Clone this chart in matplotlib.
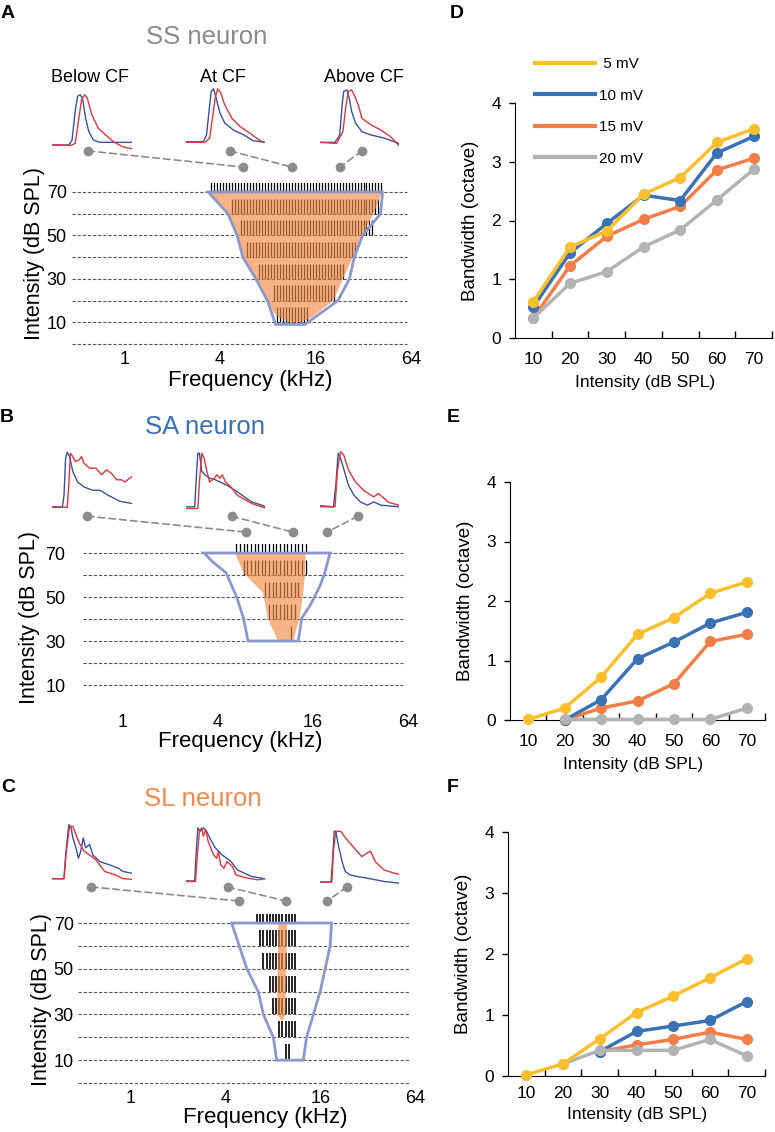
import numpy as np
import matplotlib.pyplot as plt
from matplotlib.lines import Line2D
from matplotlib.patches import Polygon, ConnectionPatch

plt.rcParams['font.family'] = ['Liberation Sans', 'DejaVu Sans']

# ---------------- data ----------------
levels = [10, 20, 30, 40, 50, 60, 70]
freq_ticks = [1, 4, 16, 64]

# A: SS neuron
ss_fill_khz = [3.37, 4.48, 5.12, 5.56, 6.72, 7.75, 9.0, 11.0, 12.5, 15.0, 20.6, 23.8, 27.4, 31.6, 37.0, 42.0]
ss_fill_db = [70, 60, 50, 40, 30, 20, 13, 10, 10, 12, 20, 30, 40, 50, 60, 70]
ss_outline_khz = [3.37, 4.48, 5.12, 5.56, 6.72, 7.94, 8.94, 13.7, 22.1, 26.1, 28.0, 31.6, 41.0, 42.0, 42.0]
ss_outline_db = [70, 60, 50, 40, 30, 20, 9, 9, 20, 30, 40, 50, 60, 68, 70]
ss_resp_lo = [8.9, 8.7, 6.8, 5.7, 5.3, 4.7, 3.5]
ss_resp_hi = [14.6, 21.3, 24.5, 29.0, 38.0, 40.0, 42.0]
ss_marks_khz = [5.58, 11.3, 22.8]

# B: SA neuron
sa_fill_khz = [5.13, 14.4, 14.2, 13.8, 13.1, 12.0, 9.6, 8.3, 7.7, 5.8]
sa_fill_db = [70, 70, 60, 50, 40, 30, 30, 40, 52, 61]
sa_outline_khz = [3.26, 20.5, 19.0, 17.7, 15.3, 13.6, 12.9, 6.2, 5.8, 5.25, 4.5, 3.7]
sa_outline_db = [70, 70, 61, 55, 46, 40.5, 30, 30, 40.5, 50, 61, 66]
sa_resp_lo = [np.nan, np.nan, 11.5, 8.3, 7.9, 5.8, 5.1]
sa_resp_hi = [np.nan, np.nan, 12.2, 12.6, 13.5, 14.4, 14.4]
sa_marks_khz = [6.0, 11.9, 19.6]

# C: SL neuron
sl_fill_khz = [8.66, 9.87, 9.6, 9.2, 8.5]
sl_fill_db = [70, 70, 30, 27, 30]
sl_outline_khz = [4.37, 18.9, 18.5, 16.0, 13.1, 12.5, 8.46, 8.05, 6.96, 6.45, 5.46]
sl_outline_db = [70, 70, 60, 40, 20, 10, 10, 20, 30, 40, 50]
sl_resp_lo = [9.56, 8.46, 7.85, 7.3, 6.8, 6.46, 6.15]
sl_resp_hi = [10.5, 11.2, 11.3, 11.5, 11.3, 11.3, 11.3]
sl_marks_khz = [4.9, 9.7, 17.7]

# PSP traces [time, amplitude] (normalised units)
ss_below_blue = [[0, 21, 25, 29, 32, 35, 38, 42, 46, 52, 60, 81, 100],
                 [3, 3, 12, 66, 94, 97, 91, 53, 28, 12, 8, 8, 8]]
ss_below_red = [[0, 23, 29, 33, 37, 41, 44, 50, 58, 67, 77, 88, 100],
                [4, 2, 6, 47, 88, 97, 91, 59, 34, 22, 9, 0, -4]]
ss_at_blue = [[0, 22, 26, 30, 32, 35, 38, 43, 49, 60, 73, 85, 100],
              [9, 9, 22, 78, 103, 108, 91, 63, 44, 31, 22, 11, 8]]
ss_at_red = [[0, 24, 30, 34, 37, 40, 44, 49, 58, 68, 81, 91, 98],
             [8, 8, 16, 59, 91, 108, 100, 78, 53, 38, 25, 14, 8]]
ss_above_blue = [[0, 19, 25, 28, 30, 34, 37, 40, 45, 53, 64, 81, 100],
                 [8, 8, 22, 78, 103, 106, 91, 66, 44, 28, 22, 16, 6]]
ss_above_red = [[0, 21, 29, 33, 36, 40, 45, 49, 53, 64, 77, 89, 100],
                [8, 6, 28, 78, 103, 106, 91, 75, 53, 41, 31, 19, 2]]

sa_below_blue = [[0, 13, 15, 17, 19, 22, 26, 32, 40, 51, 60, 70, 85, 100],
                 [3, 3, 24, 91, 102, 94, 67, 48, 39, 33, 33, 24, 13, 9]]
sa_below_red = [[0, 19, 21, 23, 26, 29, 34, 37, 40, 47, 55, 62, 68, 74, 81, 87, 91, 100],
                [2, 2, 42, 100, 94, 85, 88, 94, 82, 73, 73, 61, 70, 64, 52, 52, 48, 58]]
sa_at_blue = [[0, 11, 13, 15, 17, 20, 24, 30, 37, 43, 52, 65, 83, 100],
              [3, 3, 55, 100, 100, 67, 61, 55, 52, 48, 42, 30, 12, 4]]
sa_at_red = [[0, 15, 17, 20, 23, 26, 30, 36, 39, 43, 46, 50, 57, 65, 83, 100],
             [0, 0, 48, 100, 91, 70, 48, 55, 61, 55, 61, 48, 39, 24, 9, 1]]
sa_above_blue = [[0, 17, 20, 23, 26, 31, 36, 43, 51, 60, 68, 77, 85, 100],
                 [5, 3, 42, 100, 91, 67, 42, 24, 12, 6, 12, 6, 5, 3]]
sa_above_red = [[0, 19, 22, 26, 30, 36, 45, 55, 68, 74, 79, 87, 100],
                [3, 3, 67, 103, 97, 70, 48, 33, 21, 27, 21, 11, 6]]

sl_below_blue = [[0, 15, 17, 21, 24, 26, 30, 33, 36, 39, 42, 47, 51, 60, 72, 83, 89, 100],
                 [5, 5, 48, 103, 97, 79, 61, 42, 55, 79, 61, 67, 48, 36, 30, 24, 18, 15]]
sl_below_red = [[0, 15, 18, 22, 26, 30, 34, 40, 47, 55, 66, 79, 89, 100],
                [5, 5, 55, 100, 100, 85, 70, 55, 48, 39, 18, 12, 5, 4]]
sl_at_blue = [[0, 11, 13, 15, 18, 22, 26, 30, 37, 46, 57, 65, 74, 83, 100],
              [1, 1, 55, 97, 91, 97, 91, 79, 61, 48, 36, 21, 15, 9, 5]]
sl_at_red = [[0, 12, 14, 17, 20, 22, 25, 28, 35, 39, 41, 44, 48, 52, 59, 63, 70, 78, 91, 100],
             [0, 0, 42, 91, 97, 82, 94, 73, 48, 42, 55, 30, 24, 36, 27, 12, 9, 6, 3, 5]]
sl_above_blue = [[0, 14, 16, 18, 20, 23, 28, 32, 38, 47, 60, 81, 100],
                 [-1, -1, 42, 91, 91, 67, 36, 18, 12, 9, 6, 0, -3]]
sl_above_red = [[0, 15, 17, 20, 26, 34, 43, 53, 60, 64, 70, 81, 94, 100],
                [-1, -1, 55, 91, 91, 76, 61, 45, 52, 55, 36, 21, 15, 13]]

# D-F: bandwidth (octave) vs intensity
intensity_labels = ['10', '20', '30', '40', '50', '60', '70']
d_5mv = [0.62, 1.55, 1.82, 2.45, 2.73, 3.33, 3.56]
d_10mv = [0.53, 1.45, 1.95, 2.43, 2.34, 3.15, 3.43]
d_15mv = [0.34, 1.23, 1.73, 2.02, 2.24, 2.86, 3.06]
d_20mv = [0.34, 0.93, 1.13, 1.55, 1.84, 2.35, 2.87]
e_5mv = [0.01, 0.2, 0.72, 1.44, 1.72, 2.13, 2.32]
e_10mv = [np.nan, 0.0, 0.34, 1.03, 1.31, 1.63, 1.81]
e_15mv = [np.nan, 0.0, 0.2, 0.32, 0.61, 1.32, 1.44]
e_20mv = [np.nan, 0.01, 0.01, 0.01, 0.01, 0.01, 0.2]
f_5mv = [0.02, 0.2, 0.61, 1.04, 1.31, 1.61, 1.92]
f_10mv = [np.nan, np.nan, 0.4, 0.73, 0.82, 0.91, 1.22]
f_15mv = [np.nan, np.nan, 0.4, 0.51, 0.6, 0.72, 0.6]
f_20mv = [np.nan, 0.2, 0.42, 0.42, 0.42, 0.6, 0.33]
legend_labels = [' 5 mV', '10 mV', '15 mV', '20 mV']

c_yellow = '#fbbf2d'
c_blue = '#3a72b6'
c_orange = '#f47d48'
c_gray = '#b3b3b3'

# ---------------- figure ----------------
W, H = 775, 1132
fig = plt.figure(figsize=(W / 100, H / 100), dpi=100)


def px_box(l, t, r, b):
    return [l / W, 1 - b / H, (r - l) / W, (b - t) / H]


def ftxt(x, y, s, **kw):
    fig.text(x / W, 1 - y / H, s, **kw)


XLIM = (-1.15, 6.05)
YLIM = (-2, 74)


def raster_axes(f1_px, oct_px, y70_px, db_px):
    l = f1_px + XLIM[0] * oct_px
    r = f1_px + XLIM[1] * oct_px
    t = y70_px - (YLIM[1] - 70) * db_px
    b = y70_px + (70 - YLIM[0]) * db_px
    ax = fig.add_axes(px_box(l, t, r, b))
    ax.set_xlim(XLIM)
    ax.set_ylim(YLIM)
    return ax


def draw_raster(ax, fill_k, fill_db, out_k, out_db, lo, hi, step, lw, line_levels, line_x):
    for lev in line_levels:
        ax.plot(line_x, [lev, lev], color='0.35', lw=0.8, ls=(0, (3, 1.6)), zorder=1)
    tones = np.arange(-1, 6, step)
    for lev, a, b in zip(levels, lo, hi):
        if np.isnan(a):
            continue
        sel = tones[(tones >= np.log2(a)) & (tones <= np.log2(b))]
        ax.vlines(sel, lev, lev + 7, color='k', lw=lw, zorder=2)
    ax.add_patch(Polygon(np.column_stack([np.log2(fill_k), fill_db]), closed=True,
                         fc='#f08a45', ec='none', alpha=0.65, zorder=3))
    ax.add_patch(Polygon(np.column_stack([np.log2(out_k), out_db]), closed=True,
                         fill=False, ec='#8a98d0', lw=2, zorder=4))
    ax.set_xticks(np.log2(freq_ticks))
    ax.set_xticklabels([str(f) for f in freq_ticks])
    ax.set_yticks([10, 30, 50, 70])
    ax.tick_params(length=0, labelsize=13, pad=2)
    for s in ax.spines.values():
        s.set_visible(False)


inset_x = [(52, 132), (186, 265), (320, 399)]


def draw_traces(ax, top, bottom, traces, ups, marks_khz, mark_db):
    for (l, r), (blue, red), up, mk in zip(inset_x, traces, ups, marks_khz):
        ia = fig.add_axes(px_box(l, top, r, bottom))
        ia.set_xlim(0, 100)
        ia.set_ylim(-10, 115)
        ia.axis('off')
        ia.plot(blue[0], blue[1], color='#3453a5', lw=1)
        ia.plot(red[0], red[1], color='#e8323c', lw=1)
        ia.plot(*up, 'o', color='0.55', ms=6, clip_on=False)
        ax.plot(np.log2(mk), mark_db, 'o', color='0.55', ms=6, clip_on=False, zorder=5)
        con = ConnectionPatch(xyA=up, coordsA=ia.transData,
                              xyB=(np.log2(mk), mark_db), coordsB=ax.transData,
                              color='0.55', lw=1.2, ls=(0, (4, 2.5)))
        fig.add_artist(con)


# ---- A
axA = raster_axes(124.5, 47.8, 192, 2.171)
draw_raster(axA, ss_fill_khz, ss_fill_db, ss_outline_khz, ss_outline_db,
            ss_resp_lo, ss_resp_hi, 1 / 16, 0.9, [0] + levels, [-1.1, 5.9])
draw_traces(axA, 85, 152,
            [(ss_below_blue, ss_below_red), (ss_at_blue, ss_at_red), (ss_above_blue, ss_above_red)],
            [(45, -8), (56, -8), (53, -8)], ss_marks_khz, 81.5)
ftxt(207, 37, 'SS neuron', fontsize=18.5, color='#8c8c8c', ha='center', va='center')
ftxt(90, 77, 'Below CF', fontsize=13, ha='center', va='center')
ftxt(223, 77, 'At CF', fontsize=13, ha='center', va='center')
ftxt(364, 77, 'Above CF', fontsize=13, ha='center', va='center')
ftxt(250, 381, 'Frequency (kHz)', fontsize=16, ha='center', va='center')
ftxt(35, 253, 'Intensity (dB SPL)', fontsize=15.5, rotation=90, ha='center', va='center')

# ---- B
axB = raster_axes(123, 47.5, 553, 2.2)
draw_raster(axB, sa_fill_khz, sa_fill_db, sa_outline_khz, sa_outline_db,
            sa_resp_lo, sa_resp_hi, 1 / 13, 0.9, levels, [-0.84, 5.89])
draw_traces(axB, 445, 514,
            [(sa_below_blue, sa_below_red), (sa_at_blue, sa_at_red), (sa_above_blue, sa_above_red)],
            [(44, -14), (58, -14), (48, -14)], sa_marks_khz, 79.5)
ftxt(205, 427, 'SA neuron', fontsize=18.5, color='#3a72b6', ha='center', va='center')
ftxt(240, 742, 'Frequency (kHz)', fontsize=16, ha='center', va='center')
ftxt(30, 618, 'Intensity (dB SPL)', fontsize=15.5, rotation=90, ha='center', va='center')

# ---- C
axC = raster_axes(131, 47.3, 923, 2.286)
draw_raster(axC, sl_fill_khz, sl_fill_db, sl_outline_khz, sl_outline_db,
            sl_resp_lo, sl_resp_hi, 1 / 15, 1.2, [0] + levels, [-1.12, 5.9])
draw_traces(axC, 818, 887,
            [(sl_below_blue, sl_below_red), (sl_at_blue, sl_at_red), (sl_above_blue, sl_above_red)],
            [(49, -10), (53, -10), (34, -10)], sl_marks_khz, 79.6)
ftxt(203, 799, 'SL neuron', fontsize=18.5, color='#f4894c', ha='center', va='center')
ftxt(265, 1117, 'Frequency (kHz)', fontsize=16, ha='center', va='center')
ftxt(42, 1000, 'Intensity (dB SPL)', fontsize=15.5, rotation=90, ha='center', va='center')


# ---- D-F
def draw_bw(box, s5, s10, s15, s20, xlab_xy, tick_pad):
    ax = fig.add_axes(px_box(*box))
    x = np.arange(7) + 0.5
    for ys, c, z in [(s15, c_orange, 2), (s10, c_blue, 3), (s20, c_gray, 4), (s5, c_yellow, 5)]:
        ax.plot(x, ys, '-o', color=c, lw=2.5, ms=7, zorder=z, clip_on=False)
    ax.set_xlim(0, 7)
    ax.set_ylim(0, 4)
    ax.set_yticks([0, 1, 2, 3, 4])
    ax.set_xticks(np.arange(1, 8))
    ax.set_xticklabels([])
    ax.set_xticks(x, minor=True)
    ax.set_xticklabels(intensity_labels, minor=True)
    ax.tick_params(axis='x', which='major', direction='in', length=5, width=1)
    ax.tick_params(axis='x', which='minor', length=0, labelsize=12.5, pad=tick_pad)
    ax.tick_params(axis='y', direction='out', length=4, width=1, labelsize=12.5, pad=6)
    ax.spines['top'].set_visible(False)
    ax.spines['right'].set_visible(False)
    ax.set_ylabel('Bandwidth (octave)', fontsize=13.5, labelpad=9)
    ftxt(xlab_xy[0], xlab_xy[1], 'Intensity (dB SPL)', fontsize=12.5, ha='center', va='center')
    return ax


axD = draw_bw((515, 103, 772, 338), d_5mv, d_10mv, d_15mv, d_20mv, (645, 382), 10)
axE = draw_bw((510, 482, 765, 720), e_5mv, e_10mv, e_15mv, e_20mv, (633, 765), 10)
axF = draw_bw((508, 832, 765, 1076), f_5mv, f_10mv, f_15mv, f_20mv, (637, 1114), 7.5)

handles = [Line2D([], [], color=c, lw=3) for c in [c_yellow, c_blue, c_orange, c_gray]]
fig.legend(handles, legend_labels, loc='upper left', bbox_to_anchor=(535 / W, 1 - 57 / H),
           frameon=False, fontsize=11, handlelength=3.9, handletextpad=0.3,
           labelspacing=1.15, borderpad=0, borderaxespad=0)

# panel letters
for lx, ly, s in [(1, 13, 'A'), (0, 417, 'B'), (1, 787, 'C'),
                  (450, 14, 'D'), (447, 417, 'E'), (447, 787, 'F')]:
    ftxt(lx, ly, s, fontsize=14, fontweight='bold', ha='left', va='center')

fig.savefig('out.png', dpi=100)
